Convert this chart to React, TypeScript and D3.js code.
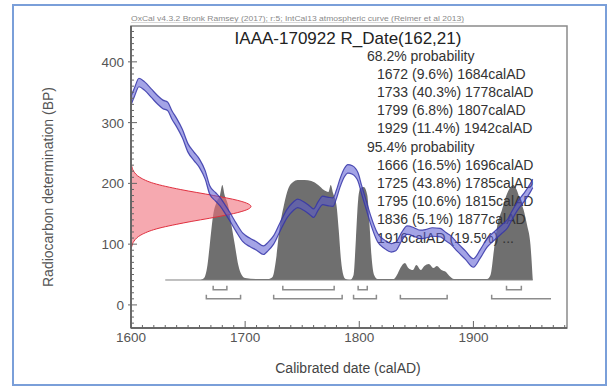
import * as d3 from 'd3';

const FONT = '"Liberation Sans", Arial, Helvetica, sans-serif';

const WIDTH = 611;
const HEIGHT = 389;
const margin = { top: 26, right: 44, bottom: 61, left: 131 };

// calibration curve (IntCal13), centre value in BP
const curveYears = [1600, 1603, 1607, 1612, 1618, 1623, 1628, 1632, 1636, 1640, 1645, 1650, 1655, 1660, 1665, 1669, 1674, 1678, 1683, 1687, 1692, 1698, 1704, 1710, 1716, 1720, 1725, 1731, 1737, 1742, 1746, 1752, 1757, 1760, 1764, 1768, 1773, 1777, 1780, 1783, 1787, 1790, 1794, 1799, 1802, 1806, 1810, 1816, 1822, 1828, 1832, 1837, 1842, 1848, 1853, 1858, 1864, 1871, 1876, 1880, 1886, 1893, 1900, 1906, 1912, 1918, 1925, 1930, 1934, 1938, 1944, 1950, 1952];
const curveBP = [336, 350, 366, 360, 348, 338, 330, 327, 312, 300, 282, 258, 245, 233, 214, 189, 178, 170, 156, 144, 128, 111, 103, 97, 90, 96, 107, 130, 151, 162, 167, 162, 155, 151, 163, 172, 170, 169, 182, 200, 218, 224, 222, 210, 190, 165, 140, 111, 100, 94, 96, 112, 123, 120, 116, 117, 120, 119, 112, 107, 95, 82, 69, 84, 102, 113, 125, 134, 148, 161, 176, 193, 200];
const CURVE_SIGMA = 7;

// calibrated posterior (relative height)
const postYears = [1630, 1660, 1664, 1667, 1669, 1672, 1675, 1678, 1680, 1682, 1685, 1688, 1691, 1694, 1697, 1700, 1710, 1720, 1724, 1727, 1730, 1734, 1738, 1742, 1746, 1752, 1758, 1764, 1769, 1773, 1775, 1777, 1780, 1782, 1784, 1786, 1788, 1792, 1795, 1797, 1799, 1801, 1804, 1807, 1809, 1811, 1813, 1816, 1830, 1833, 1836, 1840, 1843, 1847, 1850, 1854, 1857, 1861, 1865, 1868, 1872, 1876, 1879, 1883, 1912, 1915, 1918, 1921, 1925, 1929, 1932, 1935, 1938, 1941, 1944, 1947, 1950, 1952];
const postProb = [0, 0, 0.02, 0.15, 0.35, 0.65, 0.78, 0.85, 0.95, 0.85, 0.75, 0.55, 0.35, 0.15, 0.05, 0.02, 0.01, 0.01, 0.03, 0.2, 0.5, 0.75, 0.92, 0.98, 1.0, 1.0, 0.99, 0.95, 0.9, 0.88, 0.95, 0.87, 0.75, 0.5, 0.2, 0.05, 0.01, 0, 0.05, 0.4, 0.8, 0.92, 0.93, 0.85, 0.55, 0.2, 0.05, 0.01, 0.01, 0.05, 0.12, 0.17, 0.12, 0.1, 0.15, 0.1, 0.14, 0.16, 0.12, 0.14, 0.1, 0.08, 0.04, 0.01, 0.01, 0.05, 0.3, 0.55, 0.7, 0.85, 0.92, 0.95, 0.9, 0.8, 0.7, 0.55, 0.35, 0];
const POST_BASE_BP = 41;
const POST_HEIGHT_PX = 100;

// radiocarbon date R_Date(162,21) drawn on y axis
const dateBP = [96, 105, 115, 125, 135, 145, 152, 158, 162, 166, 172, 180, 190, 200, 210, 220, 230];
const dateDensity = [0.007, 0.025, 0.082, 0.21, 0.44, 0.72, 0.89, 0.98, 1, 0.98, 0.89, 0.69, 0.41, 0.19, 0.073, 0.022, 0.005];
const DATE_WIDTH_PX = 120;

const ranges68 = [[1672, 1684], [1733, 1778], [1799, 1807], [1929, 1942]];
const ranges95 = [[1666, 1696], [1725, 1785], [1795, 1815], [1836, 1877], [1916, 1968]];
const ROW68_BP = 25;
const ROW95_BP = 10;

const xTicks = [1600, 1700, 1800, 1900];
const yTicks = [0, 100, 200, 300, 400];

const legendLines = [
  { text: '68.2% probability', indent: false },
  { text: '1672 (9.6%) 1684calAD', indent: true },
  { text: '1733 (40.3%) 1778calAD', indent: true },
  { text: '1799 (6.8%) 1807calAD', indent: true },
  { text: '1929 (11.4%) 1942calAD', indent: true },
  { text: '95.4% probability', indent: false },
  { text: '1666 (16.5%) 1696calAD', indent: true },
  { text: '1725 (43.8%) 1785calAD', indent: true },
  { text: '1795 (10.6%) 1815calAD', indent: true },
  { text: '1836 (5.1%) 1877calAD', indent: true },
  { text: '1916calAD (19.5%) ...', indent: true },
];

const TITLE = 'IAAA-170922 R_Date(162,21)';
const SUBTITLE = 'OxCal v4.3.2 Bronk Ramsey (2017); r:5; IntCal13 atmospheric curve (Reimer et al 2013)';

export default function App() {
  const plotRight = WIDTH - margin.right;
  const plotBottom = HEIGHT - margin.bottom;

  const x = d3.scaleLinear().domain([1600, 1982]).range([margin.left, plotRight]);
  const y = d3.scaleLinear().domain([-38, 459]).range([plotBottom, margin.top]);

  const curve = curveYears.map((yr, i) => ({ yr, bp: curveBP[i] }));
  const band = d3.area<{ yr: number; bp: number }>()
    .x((d) => x(d.yr))
    .y0((d) => y(d.bp - CURVE_SIGMA))
    .y1((d) => y(d.bp + CURVE_SIGMA))
    .curve(d3.curveMonotoneX);
  const upper = d3.line<{ yr: number; bp: number }>()
    .x((d) => x(d.yr))
    .y((d) => y(d.bp + CURVE_SIGMA))
    .curve(d3.curveMonotoneX);
  const lower = d3.line<{ yr: number; bp: number }>()
    .x((d) => x(d.yr))
    .y((d) => y(d.bp - CURVE_SIGMA))
    .curve(d3.curveMonotoneX);

  const baseY = y(POST_BASE_BP);
  const p = d3.scaleLinear().domain([0, 1]).range([baseY, baseY - POST_HEIGHT_PX]);
  const post = postYears.map((yr, i) => ({ yr, v: postProb[i] }));
  const postArea = d3.area<{ yr: number; v: number }>()
    .x((d) => x(d.yr))
    .y0(baseY)
    .y1((d) => p(d.v))
    .curve(d3.curveMonotoneX);

  const dw = d3.scaleLinear().domain([0, 1]).range([margin.left, margin.left + DATE_WIDTH_PX]);
  const dateData = dateBP.map((bp, i) => ({ bp, v: dateDensity[i] }));
  const dateArea = d3.area<{ bp: number; v: number }>()
    .y((d) => y(d.bp))
    .x0(margin.left)
    .x1((d) => dw(d.v))
    .curve(d3.curveMonotoneY);
  const dateLine = d3.line<{ bp: number; v: number }>()
    .y((d) => y(d.bp))
    .x((d) => dw(d.v))
    .curve(d3.curveMonotoneY);

  const minorX = d3.range(1600, 1981, 10);
  const minorY = d3.range(-30, 451, 10);

  const bracket = (r: number[], bp: number, openRight: boolean) => {
    const yy = y(bp);
    const x0 = x(r[0]);
    const x1 = x(r[1]);
    return openRight
      ? `M${x0},${yy - 4}V${yy}H${x1}`
      : `M${x0},${yy - 4}V${yy}H${x1}V${yy - 4}`;
  };

  return (
    <svg width={WIDTH} height={HEIGHT} style={{ position: 'absolute', left: 0, top: 0, background: '#fff' }} fontFamily={FONT}>
      <rect x={13} y={5} width={593} height={380} fill="#fff" stroke="#7a9fd9" strokeWidth={2} />

      <text x={x(1600)} y={21} fontSize={7} fill="#8a8a8a" textLength={333} lengthAdjust="spacingAndGlyphs">{SUBTITLE}</text>
      <line x1={x(1600)} x2={x(1600) + 333} y1={22.5} y2={22.5} stroke="#bbb" strokeWidth={0.6} />

      {/* posterior */}
      <path d={postArea(post) || ''} fill="#6f6f6f" />
      <line x1={x(1630)} x2={x(1952)} y1={baseY} y2={baseY} stroke="#808080" strokeWidth={1} />

      {/* ranges */}
      {ranges68.map((r, i) => (
        <path key={`a${i}`} d={bracket(r, ROW68_BP, false)} fill="none" stroke="#8c8c8c" strokeWidth={1.5} />
      ))}
      {ranges95.map((r, i) => (
        <path key={`b${i}`} d={bracket(r, ROW95_BP, i === ranges95.length - 1)} fill="none" stroke="#8c8c8c" strokeWidth={1.5} />
      ))}

      {/* text */}
      <text x={348} y={44} fontSize={17} fill="#222" textAnchor="middle">{TITLE}</text>
      {legendLines.map((l, i) => (
        <text key={l.text} x={l.indent ? 377 : 367} y={60.5 + i * 18.2} fontSize={14} fill="#333">{l.text}</text>
      ))}

      {/* radiocarbon date */}
      <path d={dateArea(dateData) || ''} fill="#f0707c" fillOpacity={0.6} />
      <path d={dateLine(dateData) || ''} fill="none" stroke="#e0303f" strokeWidth={1} />

      {/* calibration curve */}
      <path d={band(curve) || ''} fill="#5a5ad2" fillOpacity={0.55} />
      <path d={upper(curve) || ''} fill="none" stroke="#3535a8" strokeWidth={1.2} strokeOpacity={0.85} />
      <path d={lower(curve) || ''} fill="none" stroke="#3535a8" strokeWidth={1.2} strokeOpacity={0.85} />

      {/* frame */}
      <rect x={margin.left} y={margin.top} width={plotRight - margin.left} height={plotBottom - margin.top} fill="none" stroke="#8a8a8a" strokeWidth={1.5} />
      <line x1={margin.left} x2={margin.left} y1={margin.top} y2={plotBottom} stroke="#555" strokeWidth={1.5} />
      <line x1={margin.left} x2={plotRight} y1={plotBottom} y2={plotBottom} stroke="#555" strokeWidth={1.5} />

      {/* x ticks */}
      {minorX.map((t) => (
        <line key={`mx${t}`} x1={x(t)} x2={x(t)} y1={plotBottom} y2={plotBottom - (t % 100 === 0 ? 7 : 3)} stroke="#666" strokeWidth={1} />
      ))}
      {xTicks.map((t) => (
        <text key={`xt${t}`} x={x(t)} y={342} fontSize={13.5} fill="#555" textAnchor="middle">{t}</text>
      ))}

      {/* y ticks */}
      {minorY.map((t) => (
        <line key={`my${t}`} x1={margin.left} x2={margin.left + (t % 100 === 0 ? 6 : 3)} y1={y(t)} y2={y(t)} stroke="#666" strokeWidth={1} />
      ))}
      {yTicks.map((t) => (
        <g key={`yt${t}`}>
          <line x1={margin.left - 3} x2={margin.left} y1={y(t)} y2={y(t)} stroke="#666" strokeWidth={1} />
          <text x={124} y={y(t) + 5} fontSize={13.5} fill="#555" textAnchor="end">{t}</text>
        </g>
      ))}

      <text x={348} y={373} fontSize={14} fill="#444" textAnchor="middle">Calibrated date (calAD)</text>
      <text transform={`translate(53,${(margin.top + plotBottom) / 2 + 10}) rotate(-90)`} fontSize={14} fill="#555" textAnchor="middle">Radiocarbon determination (BP)</text>
    </svg>
  );
}
